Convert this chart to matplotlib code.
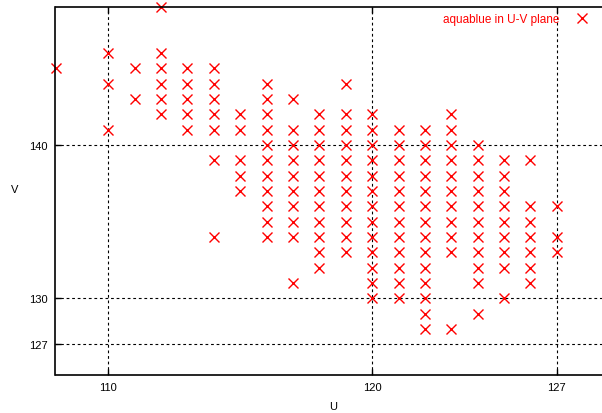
import matplotlib
matplotlib.use("Agg")
import matplotlib.pyplot as plt

plt.rcParams['font.family'] = ['Liberation Sans', 'DejaVu Sans']

# U columns and the V values observed in each column
u_cols = [108, 110, 111, 112, 113, 114, 115, 116, 117, 118,
          119, 120, 121, 122, 123, 124, 125, 126, 127]
v_cols = [
    [145],
    [146, 144, 141],
    [145, 143],
    [149, 146, 145, 144, 143, 142],
    [145, 144, 143, 142, 141],
    [145, 144, 143, 142, 141, 139, 134],
    [142, 141, 139, 138, 137],
    [144, 143, 142, 141, 140, 139, 138, 137, 136, 135, 134],
    [143, 141, 140, 139, 138, 137, 136, 135, 134, 131],
    [142, 141, 140, 139, 138, 137, 136, 135, 134, 133, 132],
    [144, 142, 141, 140, 139, 138, 137, 136, 135, 134, 133],
    [142, 141, 140, 139, 138, 137, 136, 135, 134, 133, 132, 131, 130],
    [141, 140, 139, 138, 137, 136, 135, 134, 133, 132, 131, 130],
    [141, 140, 139, 138, 137, 136, 135, 134, 133, 132, 131, 130, 129, 128],
    [142, 141, 140, 139, 138, 137, 136, 135, 134, 133, 128],
    [140, 139, 138, 137, 136, 135, 134, 133, 132, 131, 129],
    [139, 138, 137, 136, 135, 134, 133, 132, 130],
    [139, 136, 135, 134, 133, 132, 131],
    [136, 134, 133],
]
x_ticks = [110, 120, 127]
y_ticks = [127, 130, 140]
series_label = "aquablue in U-V plane"

U = []
V = []
for u, vs in zip(u_cols, v_cols):
    for v in vs:
        U.append(u)
        V.append(v)

fig = plt.figure(figsize=(6.02, 4.14), dpi=100)
W, H = 602, 414
left, right, top, bottom = 55.5, 609.6, 8, 376
ax = fig.add_axes([left / W, (H - bottom) / H, (right - left) / W, (bottom - top) / H])

ax.plot(U, V, linestyle='none', marker='x', color='red', markersize=7.3,
        markeredgewidth=1.0, label=series_label, clip_on=False)

ax.set_xlim(108, 129)
ax.set_ylim(125, 149)
ax.set_xticks(x_ticks)
ax.set_yticks(y_ticks)
ax.tick_params(direction='in', length=4, width=1, labelsize=8, top=True,
               right=False)
ax.tick_params(axis='x', pad=5.3)
ax.tick_params(axis='y', pad=5.4)
ax.grid(True, color='black', linestyle=(0, (2.5, 2.5)), linewidth=0.8)
for s in ax.spines.values():
    s.set_linewidth(1.2)
ax.spines['right'].set_visible(False)

fig.text(333 / W, 1 - 407 / H, 'U', fontsize=8, ha='center', va='center')
fig.text(15 / W, 1 - 190 / H, 'V', fontsize=8, ha='center', va='center')

leg = ax.legend(loc='center right', bbox_to_anchor=(592.3 / W, 1 - 20.5 / H),
                bbox_transform=fig.transFigure, frameon=False, markerfirst=False,
                fontsize=8.5, labelcolor='red', handlelength=1.8, handletextpad=1.0,
                borderaxespad=0, borderpad=0)

fig.savefig('out.png', dpi=100)
